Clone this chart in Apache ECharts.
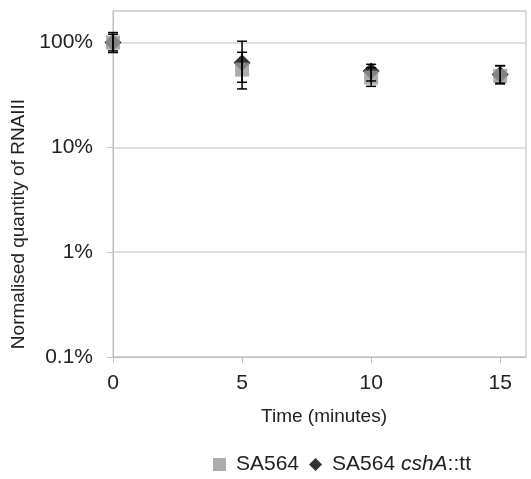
<!DOCTYPE html>
<html>
<head>
<meta charset="utf-8">
<script src="https://cdn.jsdelivr.net/npm/echarts@6/dist/echarts.min.js"></script>
<style>
html,body{margin:0;padding:0;background:#fff;}
#c{width:531px;height:479px;}
</style>
</head>
<body>
<div id="c"></div>
<script>
// ---- data ----
const times = [0, 5, 10, 15];
const wtName = 'SA564';
const mutName = 'SA564 cshA::tt';
const wtValues = [1.00, 0.552, 0.463, 0.481];
const wtLow = [0.833, 0.418, 0.382, 0.403];
const wtHigh = [1.20, 0.808, 0.575, 0.603];
const mutValues = [1.00, 0.640, 0.535, 0.495];
const mutLow = [0.803, 0.361, 0.430, 0.410];
const mutHigh = [1.246, 1.03, 0.620, 0.600];
const xTicks = [0, 5, 10, 15];
const yTickValues = [0.001, 0.01, 0.1, 1];
const yTickLabels = ['0.1%', '1%', '10%', '100%'];

const font = 'Liberation Sans, Arial, sans-serif';
const txt = '#222';
const axisGray = '#bdbdbd';

function pairs(xs, ys) { return xs.map((x, i) => [x, ys[i]]); }
function errData(xs, lo, hi) { return xs.map((x, i) => [x, lo[i], hi[i]]); }

function errRender(params, api) {
  const x = api.value(0);
  const p1 = api.coord([x, api.value(1)]);
  const p2 = api.coord([x, api.value(2)]);
  const hw = 5;
  const st = { stroke: '#000', lineWidth: 1.5 };
  return {
    type: 'group',
    children: [
      { type: 'line', shape: { x1: p1[0], y1: p1[1], x2: p2[0], y2: p2[1] }, style: st },
      { type: 'line', shape: { x1: p1[0] - hw, y1: p1[1], x2: p1[0] + hw, y2: p1[1] }, style: st },
      { type: 'line', shape: { x1: p2[0] - hw, y1: p2[1], x2: p2[0] + hw, y2: p2[1] }, style: st }
    ]
  };
}

function yLabel(v) {
  for (let i = 0; i < yTickValues.length; i++) {
    if (Math.abs(Math.log10(v) - Math.log10(yTickValues[i])) < 1e-6) return yTickLabels[i];
  }
  return '';
}

const chart = echarts.init(document.getElementById('c'), null, { renderer: 'canvas' });
chart.setOption({
  animation: false,
  backgroundColor: '#fff',
  textStyle: { fontFamily: font },
  grid: { left: 113, right: 5, top: 11, bottom: 122, show: true, borderColor: axisGray, borderWidth: 1, backgroundColor: 'transparent' },
  legend: {
    data: [
      { name: wtName, icon: 'rect' },
      { name: mutName, icon: 'diamond' }
    ],
    left: 213, top: 454, padding: 0,
    itemWidth: 13, itemHeight: 13, itemGap: 10,
    textStyle: {
      fontFamily: font, fontSize: 21, color: txt, padding: [0, 0, 0, 5],
      rich: {
        n: { fontFamily: font, fontSize: 21, color: txt },
        i: { fontFamily: font, fontSize: 21, color: txt, fontStyle: 'italic' }
      }
    },
    formatter: function (name) {
      if (name === mutName) return '{n|SA564 }{i|cshA}{n|::tt}';
      return '{n|' + name + '}';
    }
  },
  xAxis: {
    type: 'value', min: 0, max: 16, interval: 5,
    name: 'Time (minutes)', nameLocation: 'middle', nameGap: 50,
    nameTextStyle: { fontFamily: font, fontSize: 19, color: txt, padding: [0, 0, 0, 9] },
    axisLine: { lineStyle: { color: axisGray, width: 1 } },
    axisTick: { show: true, length: 6, lineStyle: { color: axisGray }, customValues: xTicks },
    axisLabel: { fontFamily: font, fontSize: 21, color: txt, margin: 16, customValues: xTicks },
    splitLine: { show: false }
  },
  yAxis: {
    type: 'log', logBase: 10, min: 0.001, max: 2,
    name: 'Normalised quantity of RNAIII', nameLocation: 'middle', nameGap: 77,
    nameTextStyle: { fontFamily: font, fontSize: 19, color: txt, padding: [0, 80, 0, 0] },
    axisLine: { show: true, lineStyle: { color: axisGray, width: 1 } },
    axisTick: { show: true, length: 6, lineStyle: { color: axisGray } },
    axisLabel: { fontFamily: font, fontSize: 21, color: txt, margin: 20, formatter: yLabel, showMaxLabel: false },
    splitLine: { show: true, lineStyle: { color: '#d6d6d6', width: 1.5 } }
  },
  series: [
    {
      name: mutName, type: 'scatter', symbol: 'diamond', symbolSize: [17, 17],
      itemStyle: { color: '#000' }, data: pairs(times, mutValues), z: 2
    },
    {
      name: wtName, type: 'scatter', symbol: 'rect', symbolSize: [14, 14],
      itemStyle: { color: '#999999' }, data: pairs(times, wtValues), z: 3
    },
    {
      name: 'err-mut', type: 'custom', renderItem: errRender, data: errData(times, mutLow, mutHigh),
      encode: { x: 0, y: [1, 2] }, z: 4, silent: true
    },
    {
      name: 'err-wt', type: 'custom', renderItem: errRender, data: errData(times, wtLow, wtHigh),
      encode: { x: 0, y: [1, 2] }, z: 4, silent: true
    }
  ]
});
</script>
</body>
</html>
